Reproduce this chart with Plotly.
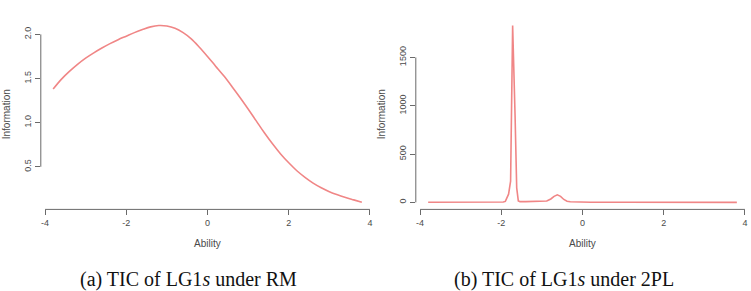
import plotly.graph_objects as go

# ---------------- data ----------------
ability_rm = [-3.8, -3.6, -3.4, -3.2, -3.0, -2.8, -2.6, -2.4, -2.2, -2.0,
              -1.8, -1.6, -1.4, -1.2, -1.0, -0.8, -0.6, -0.4, -0.2, 0.0,
              0.2, 0.4, 0.6, 0.8, 1.0, 1.2, 1.4, 1.6, 1.8, 2.0,
              2.2, 2.4, 2.6, 2.8, 3.0, 3.2, 3.4, 3.6, 3.8]
info_rm = [1.38, 1.49, 1.58, 1.66, 1.73, 1.79, 1.845, 1.895, 1.94, 1.98,
           2.02, 2.055, 2.085, 2.10, 2.095, 2.07, 2.02, 1.95, 1.855, 1.75,
           1.64, 1.53, 1.41, 1.285, 1.155, 1.02, 0.885, 0.76, 0.645, 0.545,
           0.455, 0.38, 0.315, 0.262, 0.218, 0.183, 0.153, 0.125, 0.097]

ability_2pl = [-3.8, -3.0, -2.5, -2.0, -1.95, -1.90, -1.86, -1.82, -1.77, -1.72,
               -1.66, -1.62, -1.58, -1.54, -1.4, -1.2, -1.0, -0.88, -0.78, -0.70,
               -0.62, -0.54, -0.46, -0.38, -0.3, -0.1, 0.2, 1.0, 2.0, 3.0, 3.8]
info_2pl = [0.5, 0.5, 0.8, 1.5, 3, 10, 45, 85, 220, 1830,
            900, 150, 15, 8, 8, 9, 10, 14, 35, 62,
            78, 62, 30, 12, 6, 3, 1.5, 0.8, 0.5, 0.4, 0.3]

x_ticks = [-4, -2, 0, 2, 4]
x_tick_labels = ["-4", "-2", "0", "2", "4"]
y_ticks_rm = [0.5, 1.0, 1.5, 2.0]
y_tick_labels_rm = ["0.5", "1.0", "1.5", "2.0"]
y_ticks_2pl = [0, 500, 1000, 1500]
y_tick_labels_2pl = ["0", "500", "1000", "1500"]

captions = ["(a) TIC of LG1<i>s</i> under RM", "(b) TIC of LG1<i>s</i> under 2PL"]
x_title = "Ability"
y_title = "Information"

# ---------------- styling ----------------
W, H = 751, 291
line_color = "#f08686"
axis_color = "#6a6a6a"
text_color = "#4a4a4a"
sans = "Liberation Sans, Arial, sans-serif"
serif = "Liberation Serif, Times New Roman, serif"


def rrange(vals):
    lo, hi = min(vals), max(vals)
    pad = 0.04 * (hi - lo)
    return [lo - pad, hi + pad]


# pixel layout of the two panels (left, right, top, bottom)
panels = [(40.8, 374.2), (415.8, 749.2)]
top_px, bot_px = 18.5, 209.4
ydom = [1 - bot_px / H, 1 - top_px / H]

fig = go.Figure()
fig.add_trace(go.Scatter(x=ability_rm, y=info_rm, mode="lines",
                         line=dict(color=line_color, width=1.6, shape="spline"),
                         xaxis="x", yaxis="y", showlegend=False))
fig.add_trace(go.Scatter(x=ability_2pl, y=info_2pl, mode="lines",
                         line=dict(color=line_color, width=1.6),
                         xaxis="x2", yaxis="y2", showlegend=False))

common_ax = dict(showgrid=False, zeroline=False, showline=False, ticks="outside",
                 ticklen=5, tickwidth=1, tickcolor=axis_color,
                 tickfont=dict(family=sans, size=9, color=text_color))

fig.update_layout(
    width=W, height=H, margin=dict(l=0, r=0, t=0, b=0),
    paper_bgcolor="white", plot_bgcolor="white",
    xaxis=dict(domain=[panels[0][0] / W, panels[0][1] / W], range=rrange(ability_rm),
               tickvals=x_ticks, ticktext=x_tick_labels, anchor="y", **common_ax),
    yaxis=dict(domain=ydom, range=rrange(info_rm), tickvals=y_ticks_rm,
               ticktext=y_tick_labels_rm, tickangle=-90, anchor="x", **common_ax),
    xaxis2=dict(domain=[panels[1][0] / W, panels[1][1] / W], range=rrange(ability_2pl),
                tickvals=x_ticks, ticktext=x_tick_labels, anchor="y2", **common_ax),
    yaxis2=dict(domain=ydom, range=rrange(info_2pl), tickvals=y_ticks_2pl,
                ticktext=y_tick_labels_2pl, tickangle=-90, anchor="x2", **common_ax),
)

shapes = []
annotations = []
for i, (xa, ya, yt) in enumerate([("x", "y", y_ticks_rm), ("x2", "y2", y_ticks_2pl)]):
    # R-style axis lines spanning only the tick range
    shapes.append(dict(type="line", xref=xa, yref=f"{ya} domain",
                       x0=min(x_ticks), x1=max(x_ticks), y0=0, y1=0,
                       line=dict(color=axis_color, width=1)))
    shapes.append(dict(type="line", xref=f"{xa} domain", yref=ya,
                       x0=0, x1=0, y0=min(yt), y1=max(yt),
                       line=dict(color=axis_color, width=1)))
    left, right = panels[i]
    annotations.append(dict(text=x_title, xref="paper", yref="paper",
                            x=(left + right) / 2 / W, y=1 - 243 / H,
                            showarrow=False, xanchor="center", yanchor="middle",
                            font=dict(family=sans, size=10, color=text_color)))
    annotations.append(dict(text=y_title, xref="paper", yref="paper",
                            x=(left - 33.5) / W, y=1 - (top_px + bot_px) / 2 / H,
                            textangle=-90, showarrow=False, xanchor="center",
                            yanchor="middle",
                            font=dict(family=sans, size=10, color=text_color)))

cap_x = [188.5, 564]
for cx, cap in zip(cap_x, captions):
    annotations.append(dict(text=cap, xref="paper", yref="paper", x=cx / W,
                            y=1 - 279 / H, showarrow=False, xanchor="center",
                            yanchor="middle",
                            font=dict(family=serif, size=20, color="#111111")))

fig.update_layout(shapes=shapes, annotations=annotations)
fig.write_html("out.html")
